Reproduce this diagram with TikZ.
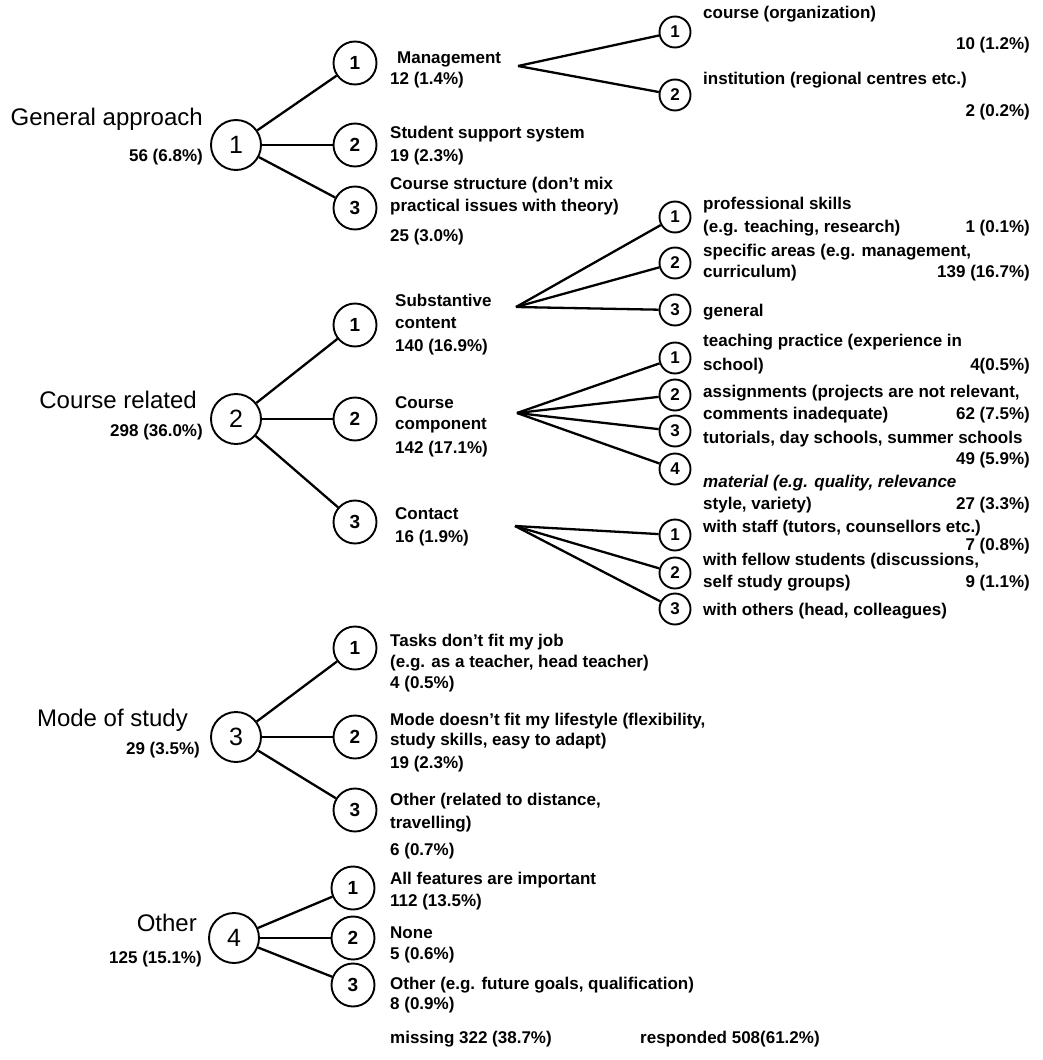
\documentclass[tikz,border=0pt]{standalone}
\usepackage{fontspec}
\setmainfont{Liberation Sans}
\begin{document}
\begin{tikzpicture}[x=1pt,y=-1pt,
  every node/.style={inner sep=0pt},
  rootc/.style={circle,draw,line width=1.9pt,minimum size=50pt,font=\fontsize{25}{25}\selectfont},
  midc/.style={circle,draw,line width=1.9pt,minimum size=43pt,font=\fontsize{19}{19}\selectfont\bfseries},
  smc/.style={circle,draw,line width=1.9pt,minimum size=31pt,font=\fontsize{17}{17}\selectfont\bfseries},
  bigl/.style={anchor=base east,font=\fontsize{24}{28}\selectfont},
  lbl/.style={anchor=base west,font=\fontsize{17}{20}\selectfont\bfseries},
  cnt/.style={anchor=base east,font=\fontsize{17}{20}\selectfont\bfseries},
  edge/.style={line width=2.3pt}]
\useasboundingbox (0,0) rectangle (1042,1060);

% ---------- 1 General approach ----------
\node[rootc] (g1) at (236,145) {1};
\node[bigl] (g1t) at (203,125) {General approach};
\node[cnt] (g1n) at (203,161) {56 (6.8\%)};
\node[midc] (g1a) at (355,63) {1};
\node[midc] (g1b) at (355,145) {2};
\node[midc] (g1c) at (355,208) {3};
\node[lbl] (g1at) at (397,63) {Management};
\node[lbl] (g1an) at (390,84) {12 (1.4\%)};
\node[lbl] (g1bt) at (390,138) {Student support system};
\node[lbl] (g1bn) at (390,161) {19 (2.3\%)};
\node[lbl] (g1ct) at (390,189) {Course structure (don't mix};
\node[lbl] (g1cu) at (390,211) {practical issues with theory)};
\node[lbl] (g1cn) at (390,241) {25 (3.0\%)};
\coordinate (g1ax) at (518,66);
\node[smc] (g1a1) at (675,32) {1};
\node[smc] (g1a2) at (675,95) {2};
\node[lbl] (g1a1t) at (703,19) {course (organization)};
\node[cnt] (g1a1n) at (1030,49) {10 (1.2\%)};
\node[lbl] (g1a2t) at (703,84) {institution (regional centres etc.)};
\node[cnt] (g1a2n) at (1030,116) {2 (0.2\%)};
\draw[edge] (g1) -- (g1a);
\draw[edge] (g1) -- (g1b);
\draw[edge] (g1) -- (g1c);
\draw[edge] (g1ax) -- (g1a1);
\draw[edge] (g1ax) -- (g1a2);

% ---------- 2 Course related ----------
\node[rootc] (g2) at (236,419) {2};
\node[bigl] (g2t) at (197,408) {Course related};
\node[cnt] (g2n) at (203,436) {298 (36.0\%)};
\node[midc] (g2a) at (355,325) {1};
\node[midc] (g2b) at (355,419) {2};
\node[midc] (g2c) at (355,522) {3};
\node[lbl] (g2at) at (395,306) {Substantive};
\node[lbl] (g2au) at (395,328) {content};
\node[lbl] (g2an) at (395,351) {140 (16.9\%)};
\node[lbl] (g2bt) at (395,408) {Course};
\node[lbl] (g2bu) at (395,429) {component};
\node[lbl] (g2bn) at (395,453) {142 (17.1\%)};
\node[lbl] (g2ct) at (395,519) {Contact};
\node[lbl] (g2cn) at (395,542) {16 (1.9\%)};
\draw[edge] (g2) -- (g2a);
\draw[edge] (g2) -- (g2b);
\draw[edge] (g2) -- (g2c);

% substantive content
\coordinate (g2ax) at (516,307);
\node[smc] (g2a1) at (675,217) {1};
\node[smc] (g2a2) at (675,263) {2};
\node[smc] (g2a3) at (675,310) {3};
\node[lbl] (g2a1t) at (703,209) {professional skills};
\node[lbl] (g2a1u) at (703,232) {(e.g. teaching, research)};
\node[cnt] (g2a1n) at (1030,232) {1 (0.1\%)};
\node[lbl] (g2a2t) at (703,256) {specific areas (e.g. management,};
\node[lbl] (g2a2u) at (703,277) {curriculum)};
\node[cnt] (g2a2n) at (1030,277) {139 (16.7\%)};
\node[lbl] (g2a3t) at (703,316) {general};
\draw[edge] (g2ax) -- (g2a1);
\draw[edge] (g2ax) -- (g2a2);
\draw[edge] (g2ax) -- (g2a3);

% course component
\coordinate (g2bx) at (517,413);
\node[smc] (g2b1) at (675,358) {1};
\node[smc] (g2b2) at (675,395) {2};
\node[smc] (g2b3) at (675,431) {3};
\node[smc] (g2b4) at (675,469) {4};
\node[lbl] (g2b1t) at (703,346) {teaching practice (experience in};
\node[lbl] (g2b1u) at (703,370) {school)};
\node[cnt] (g2b1n) at (1030,370) {4(0.5\%)};
\node[lbl] (g2b2t) at (703,397) {assignments (projects are not relevant,};
\node[lbl] (g2b2u) at (703,419) {comments inadequate)};
\node[cnt] (g2b2n) at (1030,419) {62 (7.5\%)};
\node[lbl] (g2b3t) at (703,443) {tutorials, day schools, summer schools};
\node[cnt] (g2b3n) at (1030,464) {49 (5.9\%)};
\node[lbl,font=\fontsize{17}{20}\selectfont\bfseries\itshape] (g2b4t) at (703,487) {material (e.g. quality, relevance};
\node[lbl] (g2b4u) at (703,509) {style, variety)};
\node[cnt] (g2b4n) at (1030,509) {27 (3.3\%)};
\draw[edge] (g2bx) -- (g2b1);
\draw[edge] (g2bx) -- (g2b2);
\draw[edge] (g2bx) -- (g2b3);
\draw[edge] (g2bx) -- (g2b4);

% contact
\coordinate (g2cx) at (515,526);
\node[smc] (g2c1) at (675,535) {1};
\node[smc] (g2c2) at (675,573) {2};
\node[smc] (g2c3) at (675,609) {3};
\node[lbl] (g2c1t) at (703,532) {with staff (tutors, counsellors etc.)};
\node[cnt] (g2c1n) at (1030,550) {7 (0.8\%)};
\node[lbl] (g2c2t) at (703,565) {with fellow students (discussions,};
\node[lbl] (g2c2u) at (703,587) {self study groups)};
\node[cnt] (g2c2n) at (1030,587) {9 (1.1\%)};
\node[lbl] (g2c3t) at (703,615) {with others (head, colleagues)};
\draw[edge] (g2cx) -- (g2c1);
\draw[edge] (g2cx) -- (g2c2);
\draw[edge] (g2cx) -- (g2c3);

% ---------- 3 Mode of study ----------
\node[rootc] (g3) at (236,737) {3};
\node[bigl] (g3t) at (188,726) {Mode of study};
\node[cnt] (g3n) at (200,754) {29 (3.5\%)};
\node[midc] (g3a) at (355,648) {1};
\node[midc] (g3b) at (355,737) {2};
\node[midc] (g3c) at (355,810) {3};
\node[lbl] (g3at) at (390,646) {Tasks don't fit my job};
\node[lbl] (g3au) at (390,667) {(e.g. as a teacher, head teacher)};
\node[lbl] (g3an) at (390,688) {4 (0.5\%)};
\node[lbl] (g3bt) at (390,725) {Mode doesn't fit my lifestyle (flexibility,};
\node[lbl] (g3bu) at (390,745) {study skills, easy to adapt)};
\node[lbl] (g3bn) at (390,768) {19 (2.3\%)};
\node[lbl] (g3ct) at (390,805) {Other (related to distance,};
\node[lbl] (g3cu) at (390,828) {travelling)};
\node[lbl] (g3cn) at (390,855) {6 (0.7\%)};
\draw[edge] (g3) -- (g3a);
\draw[edge] (g3) -- (g3b);
\draw[edge] (g3) -- (g3c);

% ---------- 4 Other ----------
\node[rootc] (g4) at (234,938) {4};
\node[bigl] (g4t) at (197,931) {Other};
\node[cnt] (g4n) at (202,963) {125 (15.1\%)};
\node[midc] (g4a) at (353,888) {1};
\node[midc] (g4b) at (353,938) {2};
\node[midc] (g4c) at (353,985) {3};
\node[lbl] (g4at) at (390,884) {All features are important};
\node[lbl] (g4an) at (390,906) {112 (13.5\%)};
\node[lbl] (g4bt) at (390,938) {None};
\node[lbl] (g4bn) at (390,959) {5 (0.6\%)};
\node[lbl] (g4ct) at (390,989) {Other (e.g. future goals, qualification)};
\node[lbl] (g4cn) at (390,1009) {8 (0.9\%)};
\draw[edge] (g4) -- (g4a);
\draw[edge] (g4) -- (g4b);
\draw[edge] (g4) -- (g4c);

% ---------- totals ----------
\node[lbl] (miss) at (390,1043) {missing 322 (38.7\%)};
\node[lbl] (resp) at (640,1043) {responded 508(61.2\%)};
\end{tikzpicture}
\end{document}
